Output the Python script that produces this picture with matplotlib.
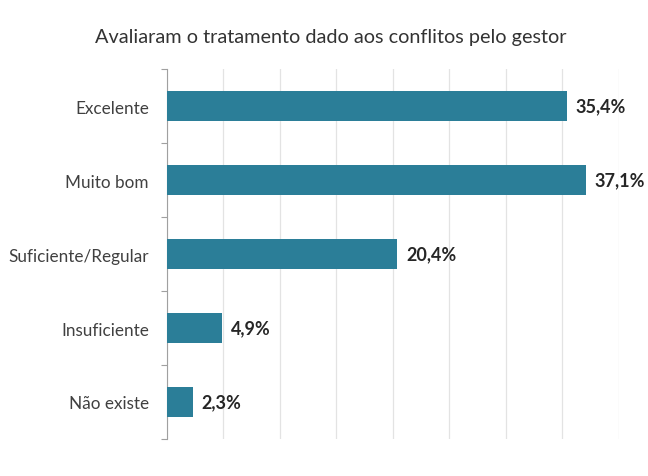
import matplotlib.pyplot as plt

categorias = ["Excelente", "Muito bom", "Suficiente/Regular", "Insuficiente", "Não existe"]
valores = [35.4, 37.1, 20.4, 4.9, 2.3]
rotulos = ["35,4%", "37,1%", "20,4%", "4,9%", "2,3%"]

plt.rcParams['font.family'] = ['Lato', 'DejaVu Sans']

fig = plt.figure(figsize=(6.48, 4.77), dpi=100)
ax = fig.add_axes([0.2577, 0.0776, 0.6975, 0.7754])

y = list(range(len(categorias)))
ax.barh(y, valores, height=0.4, color='#2b7e98', zorder=3)

for yi, v, r in zip(y, valores, rotulos):
    ax.text(v + 0.75, yi, r, va='center', ha='left', fontsize=13,
            fontweight='bold', color='#262626')

ax.set_xlim(0, 40)
ax.set_ylim(len(categorias) - 0.5, -0.5)
ax.set_xticks(range(0, 41, 5))
ax.set_xticklabels([])
ax.tick_params(axis='x', length=0)
ax.grid(axis='x', color='#e3e3e3', linewidth=0.9, zorder=0)

ax.set_yticks(y)
ax.set_yticklabels(categorias, fontsize=12.3, color='#404040')
ax.tick_params(axis='y', length=0, pad=13)
# marcas entre categorias
ax.set_yticks([i - 0.5 for i in range(len(categorias) + 1)], minor=True)
ax.tick_params(axis='y', which='minor', length=4, color='#a0a0a0', width=0.8)

for s in ['top', 'right', 'bottom']:
    ax.spines[s].set_visible(False)
ax.spines['left'].set_color('#a0a0a0')
ax.spines['left'].set_linewidth(0.8)

fig.text(0.51, 0.922, "Avaliaram o tratamento dado aos conflitos pelo gestor",
         ha='center', va='center', fontsize=14.3, color='#333333')

fig.savefig('out.png', dpi=100)
